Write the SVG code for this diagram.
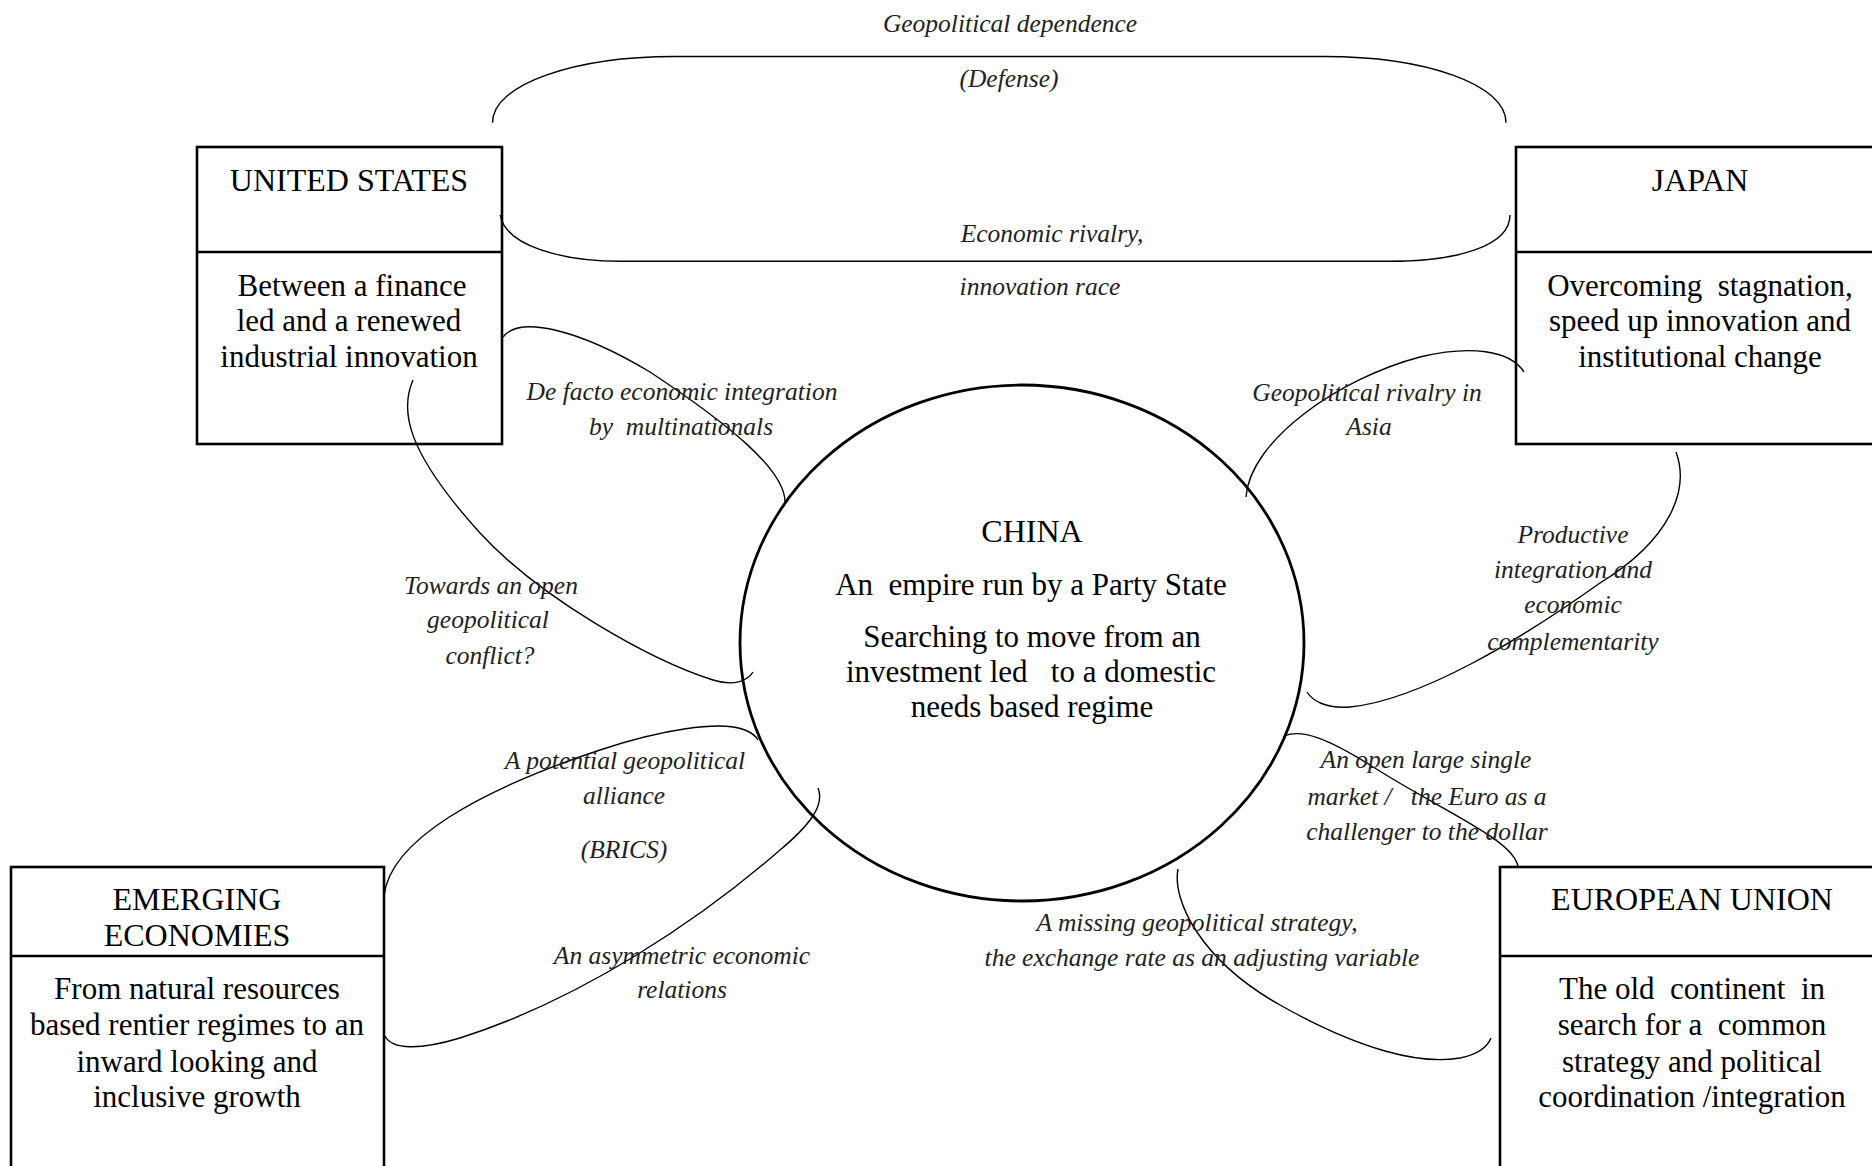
<svg xmlns="http://www.w3.org/2000/svg" width="1872" height="1166" viewBox="0 0 1872 1166">
<style>
  .box{fill:none;stroke:#000;stroke-width:2.6}
  .t{font-family:"Liberation Serif","Times New Roman",serif;font-size:31px;fill:#000;text-anchor:middle;white-space:pre}
  .h{font-size:32px}
  .l{font-family:"Liberation Serif","Times New Roman",serif;font-size:25.5px;font-style:italic;fill:#222;text-anchor:middle;white-space:pre}
  .c{fill:none;stroke:#000;stroke-width:1.4}
</style>
<rect width="1872" height="1166" fill="#fff"/>

<g id="connectors">
  <path class="c" d="M 492.5 122.7 C 492.5 84 575 56.5 674.6 56.5 L 1324 56.5 C 1425 56.5 1506 84 1506 122.7"/>
  <path class="c" d="M 500.3 214.9 C 505 245 560 261.3 621 261.3 L 1389.7 261.3 C 1460 261.3 1510 245 1510 214.9"/>
  <path class="c" d="M 503 337 C 520 315 580 330 650 372 C 730 425 785 470 785 502"/>
  <path class="c" d="M 413 380 C 400 410 405 450 480 533 C 540 598 650 660 713 680 C 735 687 748 680 753 672"/>
  <path class="c" d="M 1524 372 C 1510 350 1470 345 1420 357 C 1340 378 1250 440 1246 497"/>
  <path class="c" d="M 1676 452 C 1690 490 1670 540 1600 583 C 1520 640 1420 700 1350 707 C 1325 709 1312 700 1307 692"/>
  <path class="c" d="M 1283 737 C 1300 727 1330 740 1370 765 C 1440 810 1515 840 1518 867"/>
  <path class="c" d="M 1178 869 C 1172 900 1200 960 1280 1005 C 1360 1050 1420 1065 1460 1058 C 1475 1055 1487 1048 1491 1038"/>
  <path class="c" d="M 384 896 C 390 840 480 790 600 750 C 660 730 720 720 745 730 C 752 733 756 736 758 740"/>
  <path class="c" d="M 385 1036 C 392 1050 420 1050 460 1038 C 580 1000 700 920 780 850 C 810 825 825 805 818 788"/>
</g>

<g id="labels">
  <text class="l" x="1010" y="32">Geopolitical dependence</text>
  <text class="l" x="1009" y="87">(Defense)</text>
  <text class="l" x="1052" y="242">Economic rivalry,</text>
  <text class="l" x="1040" y="295">innovation race</text>
  <text class="l" x="682" y="400">De facto economic integration</text>
  <text class="l" x="681" y="435">by  multinationals</text>
  <text class="l" x="491" y="594">Towards an open</text>
  <text class="l" x="488" y="628">geopolitical</text>
  <text class="l" x="490" y="664">conflict?</text>
  <text class="l" x="1367" y="401">Geopolitical rivalry in</text>
  <text class="l" x="1369" y="435">Asia</text>
  <text class="l" x="1573" y="543">Productive</text>
  <text class="l" x="1573" y="578">integration and</text>
  <text class="l" x="1573" y="613">economic</text>
  <text class="l" x="1573" y="650">complementarity</text>
  <text class="l" x="625" y="769">A potential geopolitical</text>
  <text class="l" x="624" y="804">alliance</text>
  <text class="l" x="624" y="858">(BRICS)</text>
  <text class="l" x="682" y="964">An asymmetric economic</text>
  <text class="l" x="682" y="998">relations</text>
  <text class="l" x="1426" y="768">An open large single</text>
  <text class="l" x="1427" y="805">market /   the Euro as a</text>
  <text class="l" x="1427" y="840">challenger to the dollar</text>
  <text class="l" x="1197" y="931">A missing geopolitical strategy,</text>
  <text class="l" x="1202" y="966">the exchange rate as an adjusting variable</text>
</g>

<g id="us">
  <rect class="box" x="197" y="147" width="305" height="297"/>
  <line class="box" x1="197" y1="252" x2="502" y2="252"/>
  <text class="t h" x="349" y="191">UNITED STATES</text>
  <text class="t" x="352" y="296">Between a finance</text>
  <text class="t" x="349" y="331">led and a renewed</text>
  <text class="t" x="349" y="367">industrial innovation</text>
</g>

<g id="japan">
  <rect class="box" x="1516" y="147" width="380" height="297"/>
  <line class="box" x1="1516" y1="252" x2="1880" y2="252"/>
  <text class="t h" x="1700" y="191">JAPAN</text>
  <text class="t" x="1700" y="296">Overcoming  stagnation,</text>
  <text class="t" x="1700" y="331">speed up innovation and</text>
  <text class="t" x="1700" y="367">institutional change</text>
</g>

<g id="china">
  <ellipse cx="1022" cy="643" rx="282" ry="258" fill="none" stroke="#000" stroke-width="2.8"/>
  <text class="t h" x="1032" y="542">CHINA</text>
  <text class="t" x="1031" y="595">An  empire run by a Party State</text>
  <text class="t" x="1032" y="647">Searching to move from an</text>
  <text class="t" x="1031" y="682">investment led   to a domestic</text>
  <text class="t" x="1032" y="717">needs based regime</text>
</g>

<g id="emerging">
  <rect class="box" x="11" y="867" width="373" height="320"/>
  <line class="box" x1="11" y1="956" x2="384" y2="956"/>
  <text class="t h" x="197" y="910">EMERGING</text>
  <text class="t h" x="197" y="946">ECONOMIES</text>
  <text class="t" x="197" y="999">From natural resources</text>
  <text class="t" x="197" y="1035">based rentier regimes to an</text>
  <text class="t" x="197" y="1072">inward looking and</text>
  <text class="t" x="197" y="1107">inclusive growth</text>
</g>

<g id="eu">
  <rect class="box" x="1500" y="867" width="400" height="320"/>
  <line class="box" x1="1500" y1="956" x2="1880" y2="956"/>
  <text class="t h" x="1692" y="910">EUROPEAN UNION</text>
  <text class="t" x="1692" y="999">The old  continent  in</text>
  <text class="t" x="1692" y="1035">search for a  common</text>
  <text class="t" x="1692" y="1072">strategy and political</text>
  <text class="t" x="1692" y="1107">coordination /integration</text>
</g>
</svg>
